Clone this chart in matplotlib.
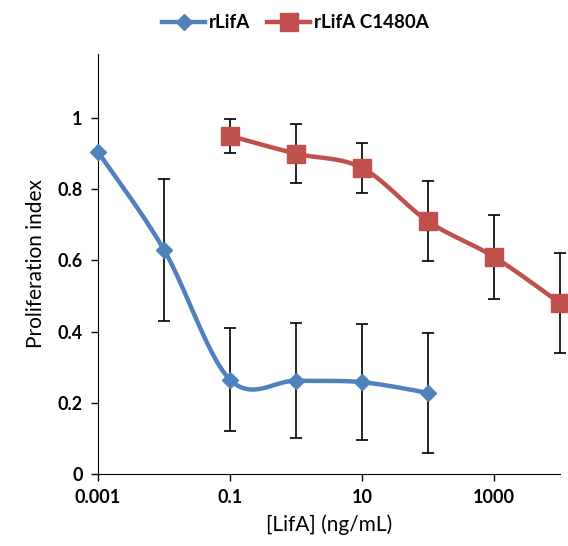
import numpy as np
import matplotlib
matplotlib.use("Agg")
import matplotlib.pyplot as plt

plt.rcParams['font.family'] = ['Lato', 'DejaVu Sans']

# data
x_wt = [0.001, 0.01, 0.1, 1, 10, 100]
y_wt = [0.905, 0.63, 0.265, 0.262, 0.258, 0.228]
e_wt = [0.0, 0.20, 0.145, 0.162, 0.163, 0.168]

x_mut = [0.1, 1, 10, 100, 1000, 10000]
y_mut = [0.95, 0.90, 0.86, 0.71, 0.61, 0.48]
e_mut = [0.047, 0.083, 0.07, 0.113, 0.118, 0.14]

blue = "#4F81BD"
red = "#C0504D"


def smooth(xs, ys, sx=66.0, sy=356.0, n=40):
    # Excel-like smoothed line: Catmull-Rom in screen-ish units
    px = np.log10(xs) * sx
    py = np.array(ys) * sy
    P = np.column_stack([px, py])
    out = []
    for i in range(len(P) - 1):
        p0 = P[i - 1] if i > 0 else P[i]
        p1, p2 = P[i], P[i + 1]
        p3 = P[i + 2] if i + 2 < len(P) else P[i + 1]
        c1 = p1 + (p2 - p0) / 6.0
        c2 = p2 - (p3 - p1) / 6.0
        t = np.linspace(0, 1, n)[:, None]
        seg = ((1 - t) ** 3) * p1 + 3 * ((1 - t) ** 2) * t * c1 + 3 * (1 - t) * t ** 2 * c2 + t ** 3 * p2
        out.append(seg)
    seg = np.vstack(out)
    return 10 ** (seg[:, 0] / sx), seg[:, 1] / sy


fig = plt.figure(figsize=(5.68, 5.46), dpi=100)
ax = fig.add_axes([0.1725, 0.1319, 0.8134, 0.7692])
ax.set_xscale("log")

for xs, ys, es, c, m, ms, lab in [(x_wt, y_wt, e_wt, blue, "D", 8, "rLifA"),
                                   (x_mut, y_mut, e_mut, red, "s", 13, "rLifA C1480A")]:
    ax.errorbar(xs, ys, yerr=es, fmt="none", ecolor="black", elinewidth=1.2,
                capsize=4, capthick=1.2, zorder=2, clip_on=False)
    sxv, syv = smooth(xs, ys)
    ax.plot(sxv, syv, color=c, lw=3.2, zorder=3, clip_on=False)
    ax.plot(xs, ys, ls="none", marker=m, ms=ms, color=c, zorder=4, clip_on=False)
    ax.plot([], [], color=c, lw=3.2, marker=m, ms=ms, label=lab)

ax.set_xlim(0.001, 10000)
ax.set_ylim(0, 1.18)
ax.set_xticks([0.001, 0.1, 10, 1000])
ax.set_xticklabels(["0.001", "0.1", "10", "1000"])
ax.xaxis.set_minor_locator(matplotlib.ticker.NullLocator())
ax.set_yticks([0, 0.2, 0.4, 0.6, 0.8, 1])
ax.set_yticklabels(["0", "0.2", "0.4", "0.6", "0.8", "1"])
for lbl in ax.get_xticklabels() + ax.get_yticklabels():
    lbl.set_fontweight("bold")
    lbl.set_fontsize(13)
ax.tick_params(direction="out", length=5, width=1, pad=6)

ax.spines["top"].set_visible(False)
ax.spines["right"].set_visible(False)

ax.set_xlabel("[LifA] (ng/mL)", fontsize=15, labelpad=6)
ax.set_ylabel("Proliferation index", fontsize=15, labelpad=8)

fig.legend(loc="upper center", bbox_to_anchor=(0.52, 1.005), ncol=2, frameon=False,
           prop={"weight": "bold", "size": 13.5}, handlelength=2.3, columnspacing=0.9,
           handletextpad=0.2)

fig.savefig("out.png", dpi=100)
